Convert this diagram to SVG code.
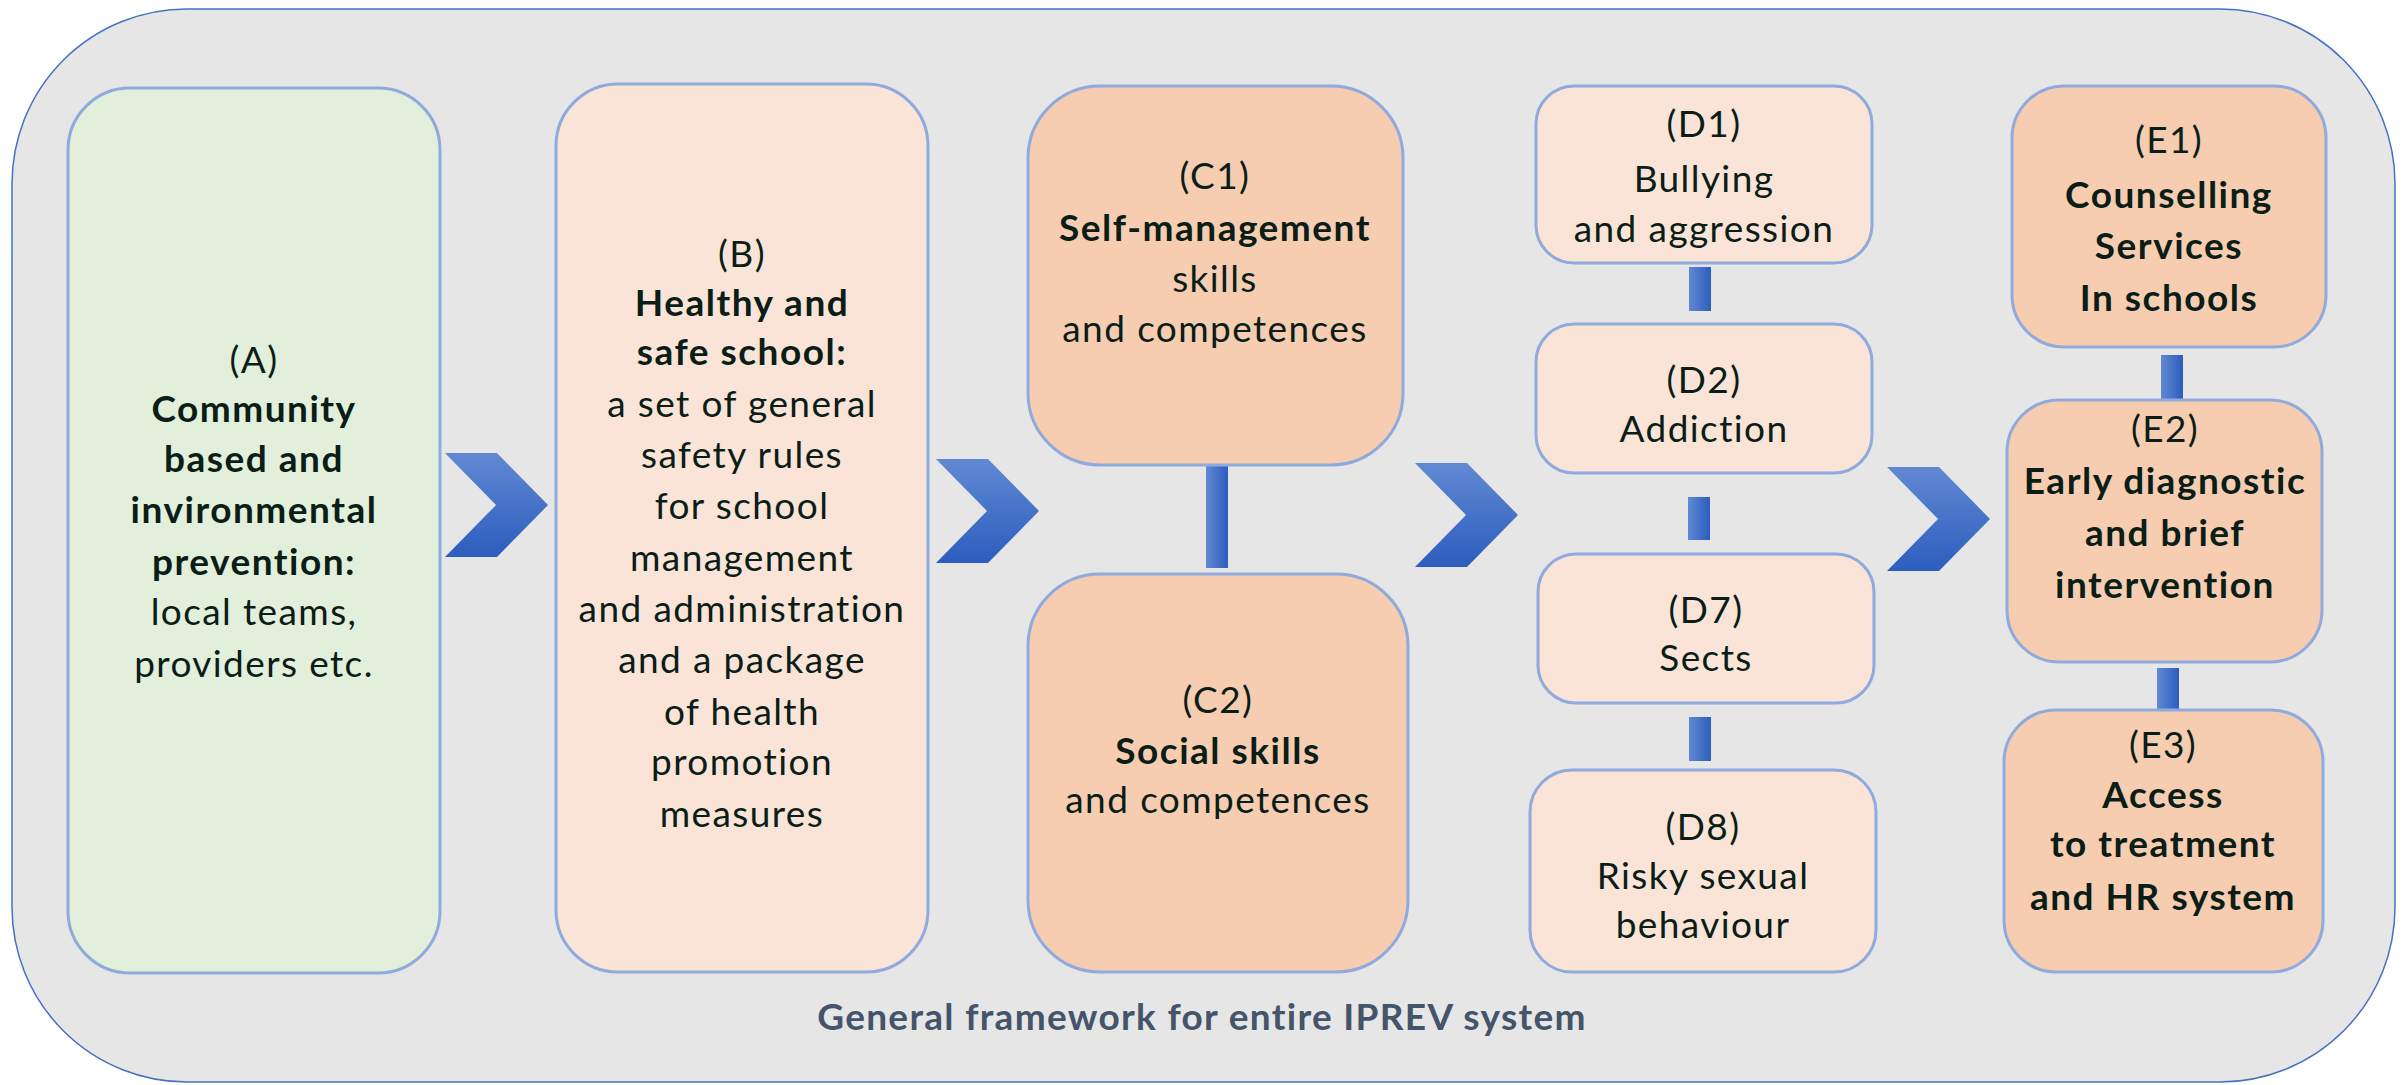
<svg xmlns="http://www.w3.org/2000/svg" width="2408" height="1085" viewBox="0 0 2408 1085">
<defs>
<linearGradient id="chev" x1="0" y1="0" x2="0" y2="1">
<stop offset="0" stop-color="#6189D3"/>
<stop offset="1" stop-color="#2C5DBE"/>
</linearGradient>
<linearGradient id="bar" x1="0" y1="0" x2="1" y2="0">
<stop offset="0" stop-color="#6189D3"/>
<stop offset="1" stop-color="#2C5DBE"/>
</linearGradient>
<path id="chevshape" d="M0,0 L52,0 L103,52 L52,104 L0,104 L51,52 Z"/>
</defs>
<style>
.box{stroke:#8FAADC;stroke-width:3}
.green{fill:#E2EFDA}
.light{fill:#F9E4D7}
.dark{fill:#F6CDB1}
text{font-family:Lato,"Open Sans","Liberation Sans",sans-serif;font-size:37px;fill:#0B1D17;text-anchor:middle;letter-spacing:1.4px}
.b{font-weight:bold;letter-spacing:1.5px}
.lbl{font-weight:bold;fill:#44546A;font-size:37px;letter-spacing:1.3px}
</style>
<rect x="0" y="0" width="2408" height="1085" fill="#FFFFFF"/>
<rect id="frame" x="12" y="9" width="2383" height="1073" rx="175" fill="#E7E6E6" stroke="#4472C4" stroke-width="1.5"/>

<g id="connectors">
<use href="#chevshape" x="445" y="453" fill="url(#chev)"/>
<use href="#chevshape" x="936" y="459" fill="url(#chev)"/>
<use href="#chevshape" x="1415" y="463" fill="url(#chev)"/>
<use href="#chevshape" x="1887" y="467" fill="url(#chev)"/>
<rect x="1206" y="466" width="22" height="102" fill="url(#bar)"/>
<rect x="1689" y="267" width="22" height="44" fill="url(#bar)"/>
<rect x="1688" y="497" width="22" height="43" fill="url(#bar)"/>
<rect x="1689" y="717" width="22" height="44" fill="url(#bar)"/>
<rect x="2161" y="355" width="22" height="44" fill="url(#bar)"/>
<rect x="2157" y="668" width="22" height="42" fill="url(#bar)"/>
</g>

<g id="A">
<rect class="box green" x="68" y="88" width="372" height="885" rx="62"/>
<text x="254" y="373">(A)</text>
<text class="b" x="254" y="422">Community</text>
<text class="b" x="254" y="472">based and</text>
<text class="b" x="254" y="523">invironmental</text>
<text class="b" x="254" y="575">prevention:</text>
<text x="254" y="625">local teams,</text>
<text x="254" y="677">providers etc.</text>
</g>

<g id="B">
<rect class="box light" x="556" y="84" width="372" height="888" rx="62"/>
<text x="742" y="267">(B)</text>
<text class="b" x="742" y="316">Healthy and</text>
<text class="b" x="742" y="365">safe school:</text>
<text x="742" y="417">a set of general</text>
<text x="742" y="468">safety rules</text>
<text x="742" y="519">for school</text>
<text x="742" y="571">management</text>
<text x="742" y="622">and administration</text>
<text x="742" y="673">and a package</text>
<text x="742" y="725">of health</text>
<text x="742" y="775">promotion</text>
<text x="742" y="827">measures</text>
</g>

<g id="C1">
<rect class="box dark" x="1028" y="86" width="375" height="379" rx="72"/>
<text x="1215" y="189">(C1)</text>
<text class="b" x="1215" y="241">Self-management</text>
<text x="1215" y="292">skills</text>
<text x="1215" y="342">and competences</text>
</g>

<g id="C2">
<rect class="box dark" x="1028" y="574" width="380" height="398" rx="72"/>
<text x="1218" y="713">(C2)</text>
<text class="b" x="1218" y="764">Social skills</text>
<text x="1218" y="813">and competences</text>
</g>

<g id="D1">
<rect class="box light" x="1536" y="86" width="336" height="177" rx="38"/>
<text x="1704" y="137">(D1)</text>
<text x="1704" y="192">Bullying</text>
<text x="1704" y="242">and aggression</text>
</g>

<g id="D2">
<rect class="box light" x="1536" y="324" width="336" height="149" rx="38"/>
<text x="1704" y="393">(D2)</text>
<text x="1704" y="442">Addiction</text>
</g>

<g id="D7">
<rect class="box light" x="1538" y="554" width="336" height="149" rx="38"/>
<text x="1706" y="623">(D7)</text>
<text x="1706" y="671">Sects</text>
</g>

<g id="D8">
<rect class="box light" x="1530" y="770" width="346" height="202" rx="42"/>
<text x="1703" y="840">(D8)</text>
<text x="1703" y="889">Risky sexual</text>
<text x="1703" y="938">behaviour</text>
</g>

<g id="E1">
<rect class="box dark" x="2012" y="86" width="314" height="261" rx="52"/>
<text x="2169" y="153">(E1)</text>
<text class="b" x="2169" y="208">Counselling</text>
<text class="b" x="2169" y="259">Services</text>
<text class="b" x="2169" y="311">In schools</text>
</g>

<g id="E2">
<rect class="box dark" x="2007" y="400" width="315" height="262" rx="52"/>
<text x="2165" y="442">(E2)</text>
<text class="b" x="2165" y="494">Early diagnostic</text>
<text class="b" x="2165" y="546">and brief</text>
<text class="b" x="2165" y="598">intervention</text>
</g>

<g id="E3">
<rect class="box dark" x="2004" y="710" width="319" height="262" rx="52"/>
<text x="2163" y="758">(E3)</text>
<text class="b" x="2163" y="808">Access</text>
<text class="b" x="2163" y="857">to treatment</text>
<text class="b" x="2163" y="910">and HR system</text>
</g>

<text class="lbl" x="1202" y="1030">General framework for entire IPREV system</text>
</svg>
